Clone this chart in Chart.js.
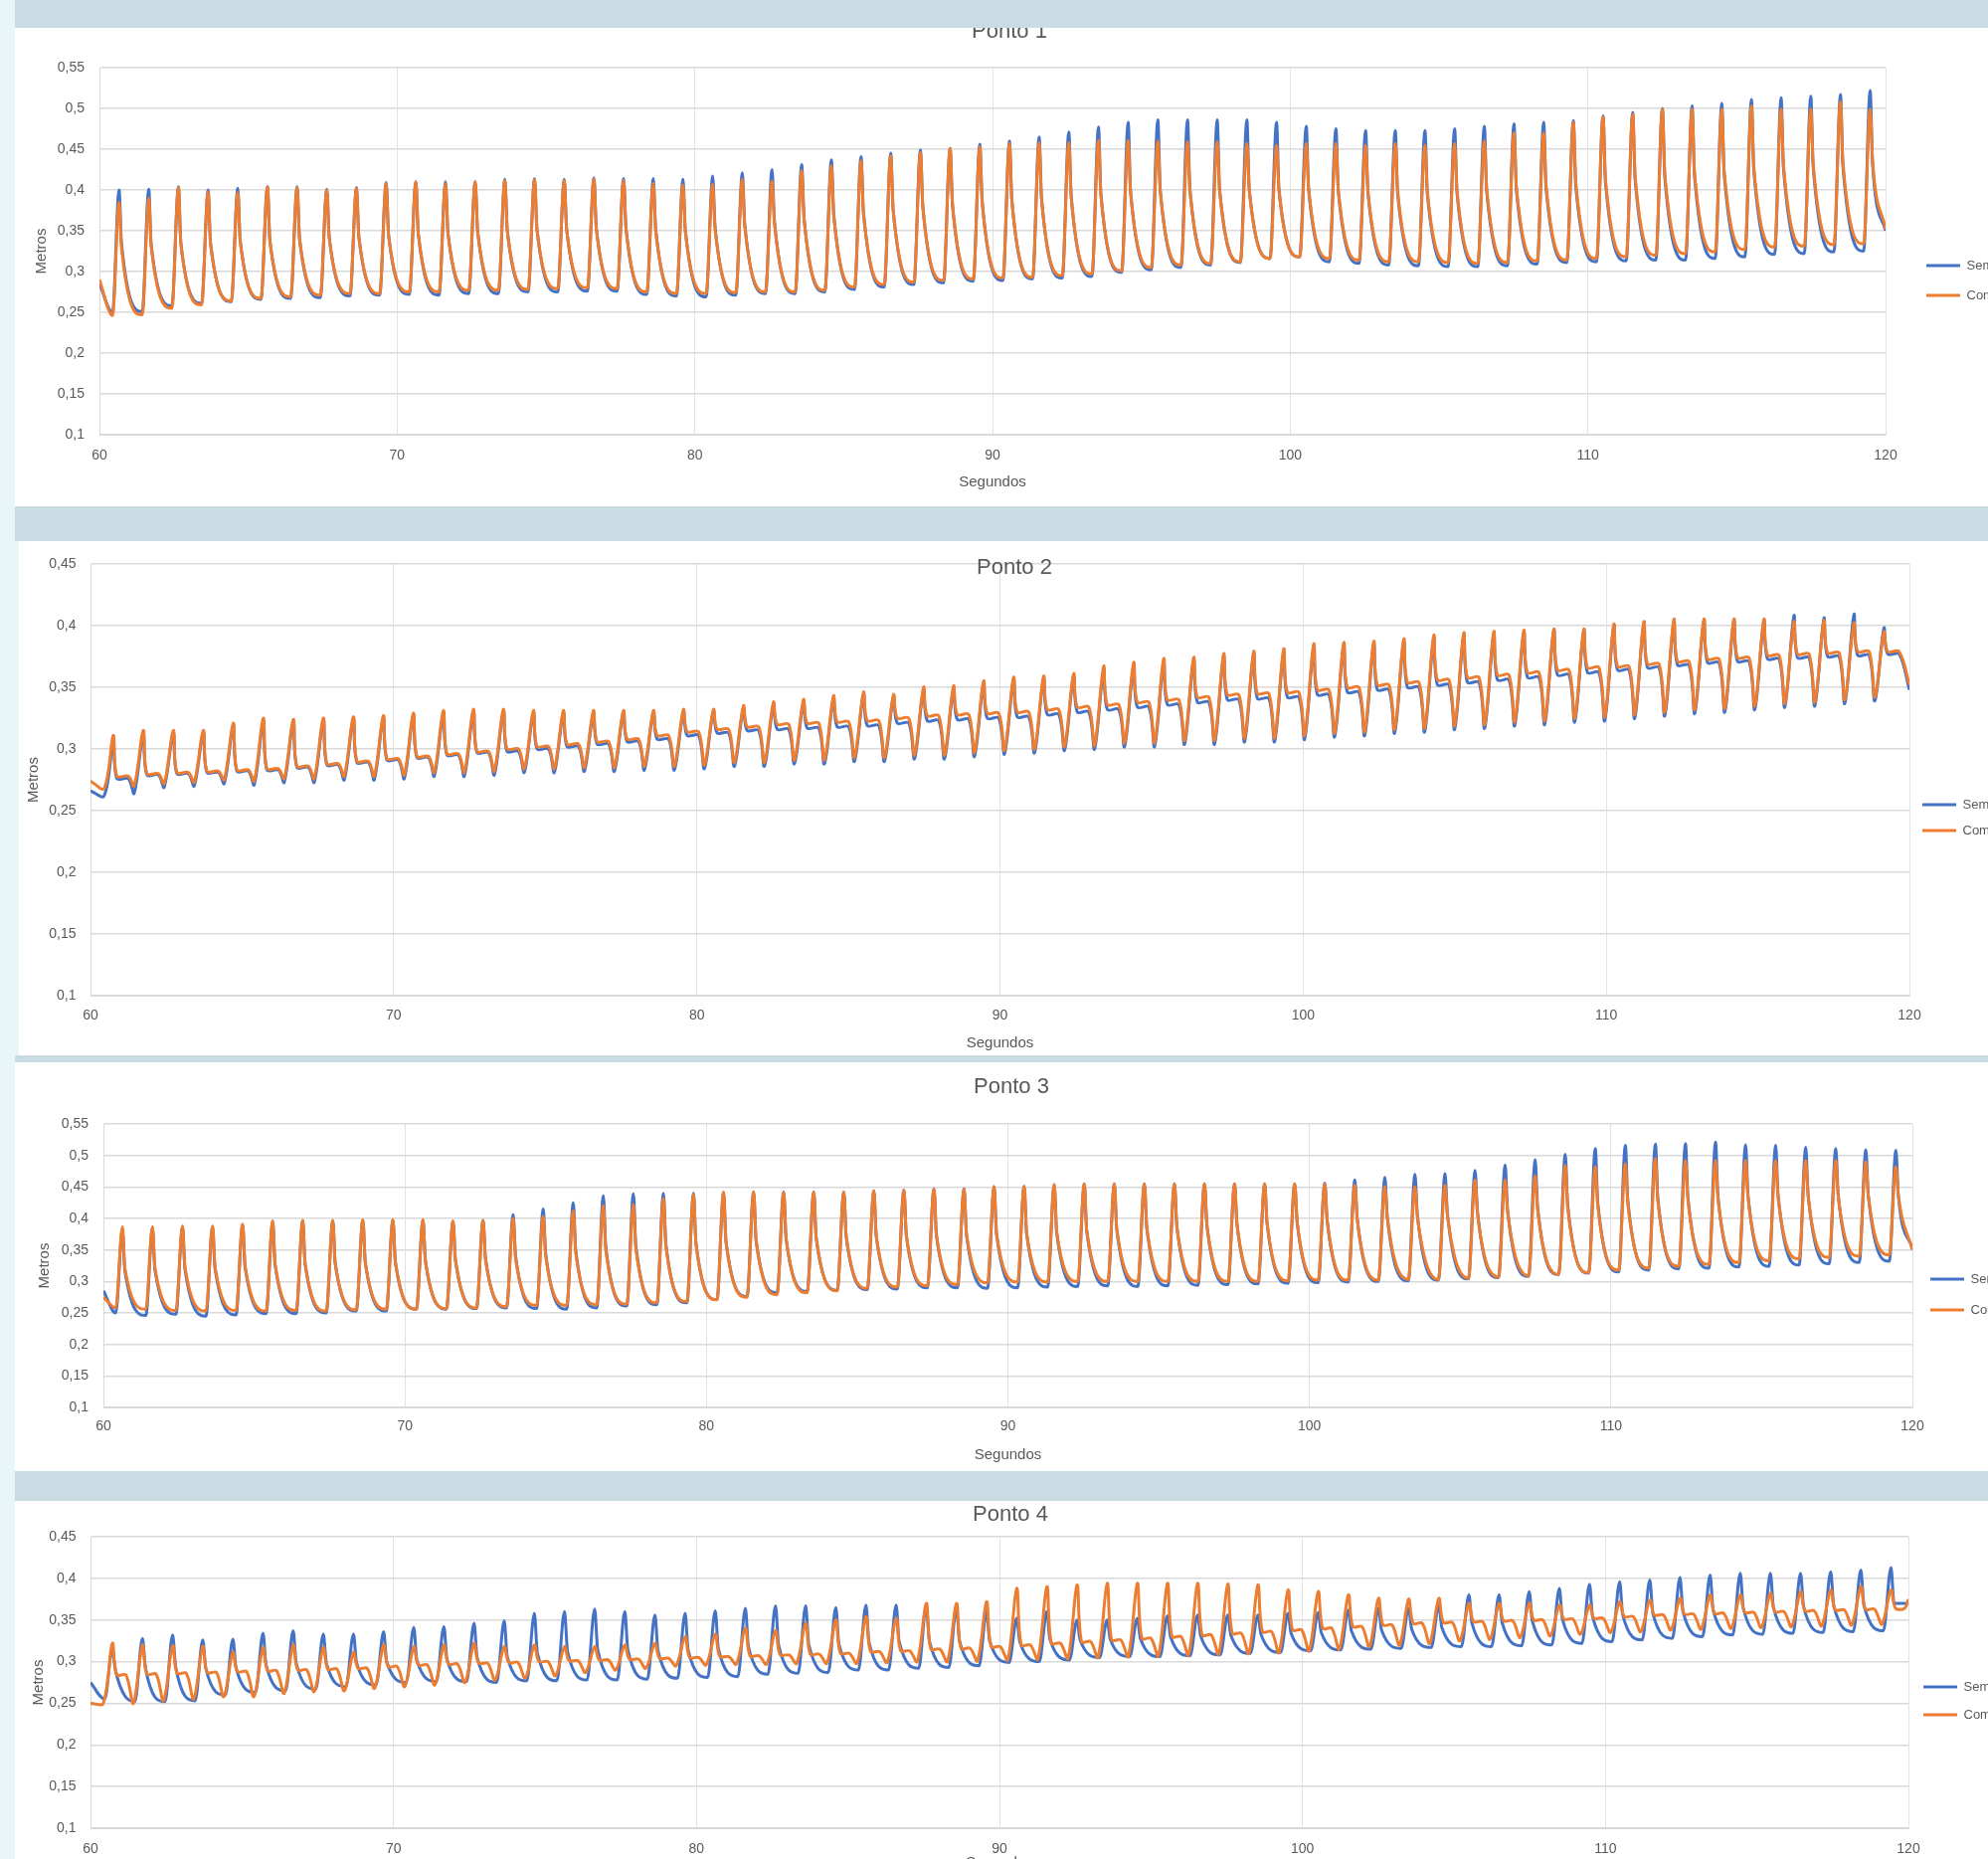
<!DOCTYPE html>
<html>
<head>
<meta charset="utf-8">
<title>Pontos 1-4</title>
<script src="https://cdn.jsdelivr.net/npm/chart.js@4.4.1/dist/chart.umd.min.js"></script>
<style>
  body { margin: 0; width: 1999px; height: 1869px; overflow: hidden; background: #e8f6f7; position: relative; }
  .sheet { position: absolute; background: #ffffff; }
  .band { position: absolute; left: 15px; width: 1984px; background: #c9dce4; z-index: 2; }
  canvas { position: absolute; z-index: 1; }
</style>
</head>
<body>
<div class="sheet" style="left:15px;top:28px;width:1984px;height:481px"></div>
<div class="sheet" style="left:19px;top:544px;width:1980px;height:517px"></div>
<div class="sheet" style="left:15px;top:1068px;width:1984px;height:411px"></div>
<div class="sheet" style="left:15px;top:1509px;width:1984px;height:360px"></div>

<canvas id="ponto1" width="2000" height="509" style="left:15px;top:0px"></canvas>
<canvas id="ponto2" width="2002" height="517" style="left:19px;top:544px"></canvas>
<canvas id="ponto3" width="2004" height="411" style="left:15px;top:1068px"></canvas>
<canvas id="ponto4" width="2002" height="381" style="left:15px;top:1509px"></canvas>

<div class="band" style="top:0px;height:28px"></div>
<div class="band" style="top:509px;height:35px"></div>
<div class="band" style="top:1061px;height:7px"></div>
<div class="band" style="top:1479px;height:30px"></div>

<script>
// eixos
const xTicks = [60, 70, 80, 90, 100, 110, 120];
const yTicksA = [0.1, 0.15, 0.2, 0.25, 0.3, 0.35, 0.4, 0.45, 0.5, 0.55];
const yTicksB = [0.1, 0.15, 0.2, 0.25, 0.3, 0.35, 0.4, 0.45];
const seriesNames = ['Sem estrutura', 'Com estrutura'];

// Ponto 1 - um valor por onda (vale, crista, patamar logo após a crista)
const p1SemPeak = [0.400,0.401,0.404,0.400,0.402,0.404,0.404,0.401,0.403,0.409,
  0.410,0.410,0.410,0.413,0.414,0.413,0.415,0.414,0.414,0.413,
  0.417,0.421,0.425,0.431,0.437,0.441,0.445,0.449,0.451,0.456,
  0.460,0.465,0.471,0.477,0.483,0.486,0.486,0.486,0.486,0.483,
  0.478,0.475,0.473,0.473,0.473,0.475,0.478,0.481,0.483,0.485,
  0.491,0.495,0.500,0.503,0.506,0.511,0.513,0.515,0.517,0.522];
const p1ComPeak = [0.385,0.390,0.403,0.398,0.397,0.404,0.403,0.400,0.402,0.408,
  0.410,0.408,0.410,0.412,0.413,0.412,0.414,0.412,0.408,0.406,
  0.407,0.413,0.411,0.424,0.430,0.436,0.442,0.446,0.451,0.453,
  0.457,0.458,0.458,0.461,0.461,0.460,0.459,0.459,0.457,0.455,
  0.457,0.457,0.455,0.457,0.455,0.457,0.460,0.470,0.470,0.483,
  0.490,0.493,0.499,0.499,0.499,0.503,0.499,0.499,0.508,0.499];
const p1SemLow = [0.250,0.251,0.258,0.261,0.263,0.266,0.267,0.268,0.270,0.271,
  0.272,0.271,0.273,0.273,0.275,0.275,0.276,0.276,0.272,0.270,
  0.269,0.271,0.273,0.273,0.275,0.278,0.281,0.284,0.286,0.288,
  0.289,0.291,0.292,0.294,0.299,0.302,0.305,0.308,0.311,0.316,
  0.318,0.312,0.310,0.308,0.307,0.306,0.306,0.307,0.309,0.311,
  0.312,0.313,0.314,0.314,0.316,0.318,0.321,0.322,0.324,0.325];
const p1ComLow = [0.246,0.247,0.255,0.259,0.264,0.267,0.269,0.271,0.273,0.273,
  0.275,0.275,0.277,0.277,0.278,0.279,0.280,0.279,0.275,0.273,
  0.273,0.274,0.275,0.275,0.277,0.281,0.284,0.287,0.289,0.291,
  0.292,0.293,0.295,0.297,0.301,0.305,0.308,0.310,0.312,0.316,
  0.318,0.316,0.314,0.312,0.312,0.311,0.310,0.311,0.313,0.314,
  0.316,0.318,0.320,0.322,0.324,0.327,0.330,0.331,0.333,0.334];
const p1SemMid = [0.335,0.333,0.335,0.335,0.338,0.338,0.340,0.342,0.342,0.345,
  0.347,0.348,0.350,0.350,0.352,0.352,0.353,0.353,0.352,0.350,
  0.355,0.358,0.362,0.365,0.370,0.373,0.376,0.380,0.382,0.386,
  0.388,0.390,0.392,0.395,0.398,0.400,0.400,0.400,0.400,0.400,
  0.400,0.398,0.396,0.395,0.395,0.396,0.398,0.400,0.402,0.405,
  0.410,0.413,0.416,0.418,0.420,0.424,0.426,0.428,0.430,0.432];
const p1ComMid = [0.330,0.332,0.335,0.334,0.337,0.338,0.340,0.341,0.342,0.344,
  0.346,0.347,0.349,0.350,0.351,0.351,0.352,0.352,0.350,0.349,
  0.352,0.356,0.360,0.364,0.368,0.372,0.376,0.379,0.382,0.385,
  0.387,0.389,0.391,0.394,0.397,0.399,0.400,0.400,0.400,0.400,
  0.402,0.400,0.398,0.398,0.398,0.399,0.401,0.404,0.406,0.410,
  0.414,0.417,0.420,0.422,0.424,0.428,0.430,0.432,0.434,0.436];
const p1Ends = { sem: [0.285, 0.350], com: [0.290, 0.352] };

// Ponto 2
const p2SemPeak = [0.306,0.312,0.313,0.313,0.318,0.322,0.322,0.323,0.324,0.325,
  0.327,0.329,0.330,0.330,0.329,0.329,0.329,0.330,0.330,0.330,
  0.331,0.333,0.336,0.338,0.341,0.344,0.343,0.348,0.349,0.353,
  0.356,0.357,0.359,0.364,0.367,0.370,0.372,0.375,0.377,0.379,
  0.383,0.384,0.385,0.387,0.390,0.392,0.393,0.394,0.396,0.396,
  0.400,0.402,0.403,0.404,0.404,0.404,0.408,0.406,0.409,0.398];
const p2ComPeak = [0.311,0.315,0.315,0.315,0.321,0.325,0.324,0.325,0.326,0.327,
  0.329,0.331,0.332,0.332,0.331,0.331,0.331,0.331,0.331,0.332,
  0.332,0.335,0.338,0.340,0.343,0.346,0.344,0.350,0.351,0.355,
  0.358,0.359,0.361,0.367,0.370,0.373,0.374,0.377,0.379,0.381,
  0.385,0.386,0.387,0.389,0.392,0.394,0.395,0.396,0.397,0.397,
  0.401,0.403,0.405,0.405,0.405,0.405,0.403,0.404,0.402,0.395];
const p2SemLow = [0.262,0.264,0.269,0.270,0.272,0.271,0.273,0.273,0.275,0.275,
  0.276,0.278,0.278,0.279,0.281,0.281,0.282,0.282,0.283,0.283,
  0.284,0.286,0.286,0.288,0.288,0.290,0.290,0.292,0.292,0.294,
  0.296,0.297,0.299,0.300,0.302,0.302,0.304,0.304,0.306,0.306,
  0.308,0.310,0.311,0.313,0.314,0.316,0.317,0.319,0.320,0.322,
  0.323,0.325,0.327,0.329,0.330,0.332,0.334,0.335,0.337,0.339];
const p2ComLow = [0.268,0.270,0.272,0.273,0.275,0.274,0.276,0.276,0.278,0.278,
  0.279,0.281,0.281,0.282,0.284,0.284,0.285,0.285,0.286,0.286,
  0.287,0.289,0.289,0.291,0.291,0.293,0.293,0.295,0.295,0.297,
  0.299,0.300,0.302,0.303,0.305,0.305,0.307,0.307,0.309,0.309,
  0.311,0.313,0.314,0.316,0.317,0.319,0.320,0.322,0.323,0.325,
  0.326,0.328,0.330,0.332,0.333,0.335,0.337,0.338,0.340,0.342];
const p2SemMid = [0.276,0.279,0.280,0.281,0.282,0.283,0.285,0.287,0.289,0.291,
  0.293,0.295,0.297,0.298,0.300,0.302,0.304,0.306,0.308,0.311,
  0.313,0.315,0.316,0.317,0.318,0.319,0.321,0.323,0.324,0.325,
  0.326,0.328,0.330,0.332,0.334,0.336,0.338,0.340,0.341,0.342,
  0.344,0.346,0.348,0.350,0.352,0.354,0.356,0.358,0.360,0.362,
  0.364,0.366,0.368,0.370,0.371,0.373,0.374,0.375,0.376,0.377];
const p2ComMid = [0.278,0.280,0.281,0.282,0.283,0.284,0.286,0.288,0.290,0.292,
  0.294,0.296,0.298,0.300,0.302,0.304,0.306,0.308,0.311,0.314,
  0.316,0.318,0.320,0.321,0.322,0.323,0.325,0.327,0.328,0.329,
  0.330,0.332,0.334,0.336,0.338,0.340,0.342,0.344,0.345,0.346,
  0.348,0.350,0.352,0.354,0.356,0.358,0.360,0.362,0.364,0.366,
  0.367,0.369,0.371,0.373,0.374,0.376,0.377,0.378,0.379,0.379];
const p2Ends = { sem: [0.266, 0.348], com: [0.274, 0.352] };

// Ponto 3
const p3SemPeak = [0.382,0.384,0.386,0.386,0.390,0.394,0.396,0.396,0.397,0.397,
  0.397,0.395,0.397,0.406,0.415,0.425,0.436,0.439,0.440,0.440,
  0.441,0.442,0.442,0.442,0.442,0.444,0.445,0.447,0.447,0.450,
  0.451,0.453,0.455,0.455,0.455,0.455,0.455,0.455,0.455,0.455,
  0.456,0.461,0.465,0.470,0.471,0.476,0.485,0.493,0.502,0.511,
  0.516,0.518,0.519,0.521,0.517,0.516,0.513,0.511,0.509,0.508];
const p3ComPeak = [0.387,0.387,0.388,0.388,0.391,0.396,0.397,0.397,0.398,0.398,
  0.398,0.396,0.397,0.400,0.403,0.412,0.420,0.422,0.432,0.438,
  0.442,0.442,0.442,0.442,0.442,0.444,0.445,0.447,0.447,0.451,
  0.451,0.454,0.455,0.455,0.455,0.455,0.455,0.455,0.455,0.455,
  0.455,0.453,0.450,0.450,0.453,0.461,0.461,0.468,0.484,0.482,
  0.487,0.495,0.492,0.492,0.492,0.492,0.492,0.492,0.490,0.482];
const p3SemLow = [0.250,0.246,0.248,0.245,0.247,0.249,0.249,0.250,0.253,0.253,
  0.256,0.256,0.257,0.258,0.257,0.256,0.258,0.261,0.263,0.266,
  0.271,0.276,0.282,0.284,0.286,0.287,0.288,0.290,0.290,0.289,
  0.290,0.291,0.292,0.293,0.292,0.293,0.294,0.295,0.296,0.297,
  0.298,0.299,0.300,0.301,0.302,0.304,0.306,0.308,0.311,0.313,
  0.315,0.318,0.320,0.321,0.323,0.324,0.326,0.328,0.330,0.332];
const p3ComLow = [0.258,0.256,0.254,0.253,0.254,0.253,0.254,0.253,0.255,0.256,
  0.256,0.257,0.258,0.260,0.262,0.262,0.263,0.264,0.266,0.268,
  0.271,0.275,0.279,0.282,0.285,0.289,0.291,0.293,0.295,0.298,
  0.299,0.299,0.300,0.300,0.300,0.300,0.300,0.300,0.300,0.301,
  0.302,0.302,0.302,0.303,0.303,0.305,0.307,0.309,0.311,0.314,
  0.318,0.321,0.324,0.327,0.330,0.333,0.336,0.338,0.340,0.342];
const p3SemMid = [0.318,0.319,0.320,0.321,0.323,0.326,0.327,0.328,0.330,0.331,
  0.333,0.334,0.336,0.340,0.345,0.350,0.355,0.357,0.359,0.361,
  0.363,0.365,0.367,0.369,0.370,0.371,0.372,0.373,0.374,0.375,
  0.376,0.378,0.380,0.382,0.384,0.386,0.388,0.390,0.392,0.394,
  0.396,0.399,0.402,0.405,0.407,0.410,0.414,0.418,0.422,0.426,
  0.429,0.432,0.434,0.435,0.436,0.437,0.437,0.437,0.437,0.437];
const p3ComMid = [0.322,0.322,0.323,0.323,0.325,0.327,0.328,0.329,0.330,0.331,
  0.332,0.333,0.334,0.336,0.340,0.345,0.350,0.352,0.356,0.360,
  0.363,0.366,0.368,0.370,0.371,0.372,0.373,0.374,0.375,0.376,
  0.377,0.379,0.381,0.383,0.385,0.387,0.389,0.391,0.393,0.395,
  0.397,0.399,0.401,0.403,0.405,0.408,0.411,0.414,0.418,0.421,
  0.424,0.427,0.429,0.431,0.433,0.434,0.435,0.436,0.437,0.437];
const p3Ends = { sem: [0.285, 0.352], com: [0.275, 0.350] };

// Ponto 4
const p4SemPeak = [0.315,0.328,0.332,0.326,0.327,0.334,0.337,0.333,0.333,0.336,
  0.341,0.342,0.346,0.349,0.358,0.360,0.363,0.360,0.356,0.358,
  0.361,0.364,0.367,0.367,0.365,0.368,0.368,0.368,0.365,0.360,
  0.352,0.360,0.350,0.350,0.352,0.355,0.356,0.356,0.356,0.358,
  0.359,0.362,0.364,0.364,0.368,0.380,0.380,0.384,0.388,0.393,
  0.396,0.398,0.401,0.404,0.406,0.406,0.406,0.408,0.410,0.413];
const p4ComPeak = [0.322,0.320,0.319,0.318,0.311,0.317,0.320,0.317,0.311,0.320,
  0.318,0.320,0.322,0.318,0.320,0.318,0.318,0.320,0.322,0.330,
  0.333,0.340,0.337,0.346,0.350,0.354,0.352,0.370,0.370,0.372,
  0.388,0.390,0.392,0.394,0.394,0.394,0.394,0.393,0.392,0.386,
  0.384,0.380,0.376,0.375,0.376,0.370,0.370,0.370,0.368,0.368,
  0.372,0.374,0.376,0.380,0.380,0.382,0.384,0.386,0.390,0.386];
const p4SemLow = [0.255,0.252,0.252,0.253,0.260,0.263,0.265,0.267,0.270,0.272,
  0.275,0.276,0.276,0.275,0.277,0.277,0.278,0.278,0.279,0.280,
  0.281,0.282,0.285,0.286,0.287,0.290,0.290,0.292,0.293,0.295,
  0.299,0.300,0.302,0.305,0.306,0.306,0.307,0.308,0.310,0.311,
  0.313,0.314,0.315,0.316,0.317,0.318,0.318,0.319,0.320,0.322,
  0.324,0.326,0.328,0.330,0.332,0.333,0.334,0.335,0.336,0.337];
const p4ComLow = [0.250,0.250,0.253,0.255,0.258,0.258,0.262,0.264,0.265,0.268,
  0.270,0.272,0.275,0.278,0.280,0.283,0.287,0.290,0.292,0.295,
  0.296,0.297,0.297,0.298,0.298,0.298,0.299,0.300,0.300,0.301,
  0.302,0.303,0.304,0.305,0.306,0.307,0.308,0.309,0.310,0.311,
  0.313,0.315,0.318,0.320,0.322,0.325,0.327,0.329,0.331,0.333,
  0.335,0.336,0.338,0.339,0.340,0.341,0.342,0.343,0.344,0.345];
const p4SemMid = [0.290,0.292,0.294,0.292,0.293,0.296,0.298,0.298,0.299,0.300,
  0.302,0.303,0.305,0.306,0.310,0.312,0.314,0.314,0.313,0.314,
  0.316,0.318,0.320,0.321,0.321,0.323,0.324,0.325,0.325,0.325,
  0.324,0.327,0.326,0.327,0.328,0.330,0.331,0.332,0.333,0.334,
  0.335,0.337,0.338,0.339,0.341,0.346,0.347,0.349,0.351,0.354,
  0.356,0.358,0.360,0.362,0.364,0.365,0.366,0.367,0.368,0.370];
const p4ComMid = [0.284,0.285,0.286,0.287,0.288,0.289,0.290,0.291,0.292,0.294,
  0.296,0.297,0.298,0.299,0.300,0.301,0.302,0.303,0.304,0.305,
  0.306,0.307,0.308,0.309,0.310,0.312,0.313,0.315,0.316,0.318,
  0.320,0.322,0.324,0.326,0.328,0.330,0.332,0.334,0.336,0.338,
  0.340,0.342,0.344,0.346,0.347,0.348,0.349,0.350,0.351,0.352,
  0.354,0.356,0.357,0.358,0.359,0.360,0.361,0.362,0.363,0.364];
const p4Ends = { sem: [0.275, 0.370], com: [0.250, 0.375] };

// instante da primeira crista, período, vale/patamar em relação à crista (s), suavização
const spike1 = { t0: 60.66, period: 0.997, low: -0.22, mids: [0.08], tension: 0 };
const plateau2 = { t0: 60.75, period: 0.99, low: -0.3, mids: [0.12, 0.5], tension: 0.35 };
const spike3 = { t0: 60.63, period: 0.997, low: -0.22, mids: [0.08], tension: 0 };
const spike4 = { t0: 60.72, period: 0.995, low: -0.25, mids: [0.1], tension: 0 };
const plateau4 = { t0: 60.72, period: 0.995, low: -0.3, mids: [0.15, 0.45], tension: 0.35 };

function wavePoints(w, lows, peaks, mids, ends) {
  const pts = [{ x: 60, y: ends[0] }];
  peaks.forEach((p, i) => {
    const t = w.t0 + i * w.period;
    pts.push({ x: t + w.low, y: lows[i] });
    pts.push({ x: t, y: p });
    w.mids.forEach(o => pts.push({ x: t + o, y: mids[i] }));
  });
  pts.push({ x: 120, y: ends[1] });
  return { points: pts, tension: w.tension };
}

Chart.defaults.font.family = "'Liberation Sans', Arial, sans-serif";
Chart.defaults.color = '#595959';

const blue = '#4472c4';
const orange = '#ed7d31';
const gridColor = '#d9d9d9';

function lineSet(label, color, order, series) {
  return {
    label, data: series.points, borderColor: color, backgroundColor: color,
    borderWidth: 3, pointRadius: 0, order,
    cubicInterpolationMode: series.tension ? 'default' : 'monotone',
    tension: series.tension
  };
}

function makeChart(id, title, yTicks, sem, com, lay) {
  const comma = v => String(v).replace('.', ',');
  new Chart(document.getElementById(id), {
    type: 'line',
    data: {
      datasets: [
        lineSet(seriesNames[0], blue, 1, sem),
        lineSet(seriesNames[1], orange, 0, com)
      ]
    },
    options: {
      responsive: false,
      animation: false,
      devicePixelRatio: 1,
      events: [],
      layout: { padding: 0 },
      plugins: {
        tooltip: { enabled: false },
        title: {
          display: true, text: title, color: '#595959',
          font: { size: 22, weight: 'normal' },
          padding: lay.titlePad
        },
        legend: {
          position: 'right',
          maxWidth: lay.legW,
          title: { display: true, text: ' ', font: { size: 10 }, padding: { top: lay.legShift, bottom: 0 } },
          labels: {
            usePointStyle: true, pointStyle: 'line', pointStyleWidth: 34,
            padding: lay.legPad, color: '#595959', font: { size: 13 },
            sort: (a, b) => a.datasetIndex - b.datasetIndex
          }
        }
      },
      scales: {
        x: {
          type: 'linear', min: xTicks[0], max: xTicks[xTicks.length - 1],
          afterBuildTicks: axis => { axis.ticks = xTicks.map(v => ({ value: v })); },
          afterFit: axis => { axis.height = lay.xH; },
          grid: { color: '#e2e2e2', lineWidth: 1, drawTicks: false },
          border: { color: gridColor, width: 1 },
          ticks: { padding: lay.tickPadX, maxRotation: 0, autoSkip: false, font: { size: 14 } },
          title: { display: true, text: 'Segundos', font: { size: 15 }, padding: { top: 0, bottom: lay.xTitlePad } }
        },
        y: {
          type: 'linear', min: yTicks[0], max: yTicks[yTicks.length - 1],
          afterBuildTicks: axis => { axis.ticks = yTicks.map(v => ({ value: v })); },
          afterFit: axis => { axis.width = lay.yW; },
          grid: { color: gridColor, lineWidth: 1.5, drawTicks: false },
          border: { color: gridColor, width: 1 },
          ticks: { padding: lay.tickPadY, font: { size: 14 }, callback: v => comma(v) },
          title: { display: true, text: 'Metros', font: { size: 15 }, padding: { top: lay.yTitlePad, bottom: 0 } }
        },
        gap: {
          type: 'linear', position: 'right', display: lay.gap > 0,
          grid: { display: false }, border: { display: false }, ticks: { display: false },
          afterFit: axis => { axis.width = lay.gap; }
        }
      }
    }
  });
}

makeChart('ponto1', 'Ponto 1', yTicksA,
  wavePoints(spike1, p1SemLow, p1SemPeak, p1SemMid, p1Ends.sem),
  wavePoints(spike1, p1ComLow, p1ComPeak, p1ComMid, p1Ends.com),
  { xH: 72, yW: 85, gap: 24, legW: 95, legPad: 17, legShift: 43,
    titlePad: { top: 18.8, bottom: 22.8 }, tickPadX: 13, tickPadY: 15, xTitlePad: 15, yTitlePad: 17.5 });

makeChart('ponto2', 'Ponto 2', yTicksB,
  wavePoints(plateau2, p2SemLow, p2SemPeak, p2SemMid, p2Ends.sem),
  wavePoints(plateau2, p2ComLow, p2ComPeak, p2ComMid, p2Ends.com),
  { xH: 60, yW: 72, gap: 0, legW: 101, legPad: 13, legShift: 27,
    titlePad: { top: 13.8, bottom: -17.2 }, tickPadX: 11.6, tickPadY: 14.5, xTitlePad: 3.5, yTitlePad: 5.5 });

makeChart('ponto3', 'Ponto 3', yTicksA,
  wavePoints(spike3, p3SemLow, p3SemPeak, p3SemMid, p3Ends.sem),
  wavePoints(spike3, p3ComLow, p3ComPeak, p3ComMid, p3Ends.com),
  { xH: 64, yW: 89, gap: 0, legW: 96, legPad: 18, legShift: 44,
    titlePad: { top: 11.8, bottom: 23.8 }, tickPadX: 10.6, tickPadY: 15, xTitlePad: 7.5, yTitlePad: 21 });

makeChart('ponto4', 'Ponto 4', yTicksB,
  wavePoints(spike4, p4SemLow, p4SemPeak, p4SemMid, p4Ends.sem),
  wavePoints(plateau4, p4ComLow, p4ComPeak, p4ComMid, p4Ends.com),
  { xH: 52, yW: 76, gap: 0, legW: 98, legPad: 15, legShift: 9,
    titlePad: { top: 0.8, bottom: 8.8 }, tickPadX: 12.6, tickPadY: 14.5, xTitlePad: 8, yTitlePad: 14.5 });
</script>
</body>
</html>
